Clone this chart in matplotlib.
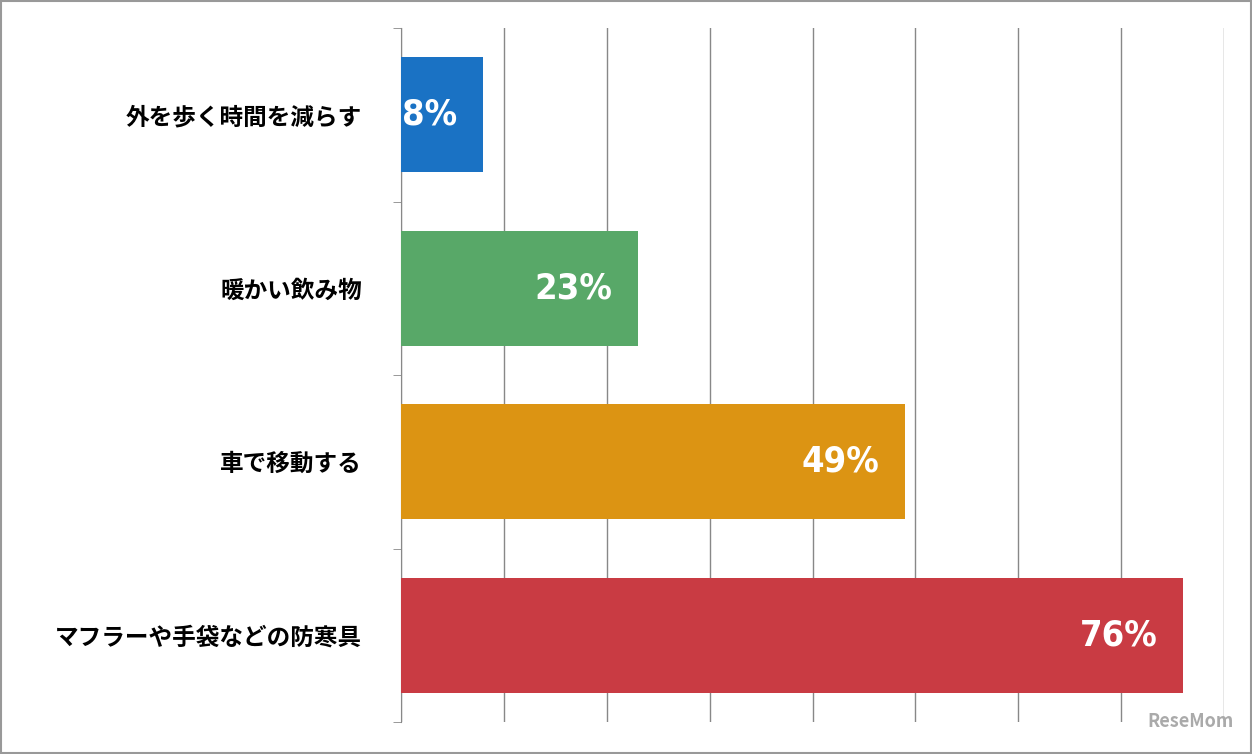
import matplotlib.pyplot as plt

plt.rcParams['font.family'] = ['Noto Sans CJK JP', 'DejaVu Sans']

categories = ["外を歩く時間を減らす", "暖かい飲み物", "車で移動する", "マフラーや手袋などの防寒具"]
values = [8, 23, 49, 76]
colors = ["#1a72c4", "#58a868", "#dc9413", "#c93b43"]

fig = plt.figure(figsize=(12.52, 7.54), dpi=100)
ax = fig.add_axes([401 / 1252, 32 / 754, 823 / 1252, 694 / 754])

pos = list(range(len(categories)))
ax.barh(pos, values, height=0.66, color=colors, zorder=3)
for p, v in zip(pos, values):
    ax.text(v - 2.5, p, f"{v}%", ha="right", va="center", color="white",
            fontsize=26, fontweight="bold", fontstretch="condensed",
            family=["Liberation Sans Narrow", "DejaVu Sans"], zorder=4)

ax.set_xlim(0, 80)
ax.set_ylim(3.5, -0.5)
ax.set_xticks(range(0, 81, 10))
ax.set_xticklabels([])
ax.tick_params(axis="x", length=0)
ax.grid(axis="x", color="#888888", linewidth=1, zorder=0)
ax.set_yticks([p - 0.5 for p in pos] + [3.5], minor=True)
ax.set_yticks(pos)
ax.set_yticklabels(categories, fontsize=17, fontweight="bold")
ax.tick_params(axis="y", which="major", length=0, pad=28)
ax.tick_params(axis="y", which="minor", length=6, color="#888888")
for s in ["top", "right", "bottom"]:
    ax.spines[s].set_visible(False)
ax.spines["left"].set_color("#888888")

fig.patches.append(plt.Rectangle((0.001, 0.001), 0.998, 0.998, transform=fig.transFigure,
                                 fill=False, edgecolor="#999999", linewidth=1.5))
fig.text(0.985, 0.03, "ReseMom", ha="right", va="bottom", fontsize=13,
         fontweight="bold", color="#aaaaaa")

fig.savefig("out.png")
